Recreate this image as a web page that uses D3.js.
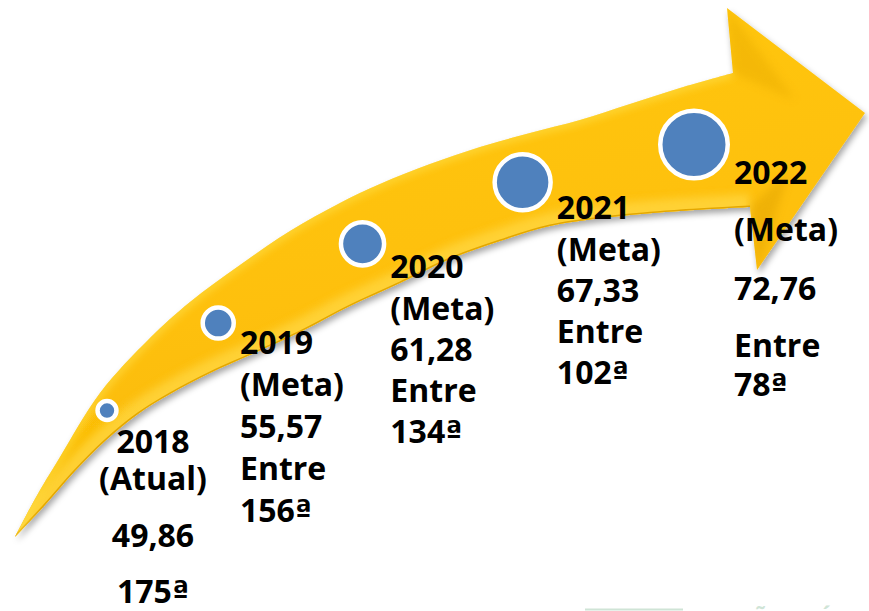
<!DOCTYPE html>
<html>
<head>
<meta charset="utf-8">
<script src="https://cdn.jsdelivr.net/npm/d3@7"></script>
<style>
  body { margin: 0; background: #fff; }
  svg { display: block; }
</style>
</head>
<body>
<div id="chart"></div>
<script>
// data
const years = ["2018", "2019", "2020", "2021", "2022"];
const status = ["(Atual)", "(Meta)", "(Meta)", "(Meta)", "(Meta)"];
const scores = [49.86, 55.57, 61.28, 67.33, 72.76];
const entre = [false, true, true, true, true];
const ranks = ["175ª", "156ª", "134ª", "102ª", "78ª"];

const width = 869, height = 611;
const fontSize = 32;

// arrow outline, purely decorative shape
const upperEdge = [[15,537],[35,499],[60,457],[100,393],[150,338],[190,302],[240,265],[290,231],[340,203],[380,184],[430,164],[480,147],[530,133],[580,120],[630,104],[680,88],[733,73]];
const lowerEdge = [[15,537],[45,505],[75,471],[105,441],[138,414],[170,394],[210,373],[250,355],[300,332],[350,306],[400,283],[450,259],[500,241],[550,226],[620,216],[680,211],[750,207]];
const headTop = [727, 8], headTip = [865, 113], headLow = [757, 270];

// line gaps (dy between lines) per label block
const lineGaps = [
  [0, 37, 57, 56],
  [0, 42, 42, 42, 42],
  [0, 42, 41, 41, 41],
  [0, 42, 41, 41, 41],
  [0, 57, 59, 57, 39]
];

const ptBR = d3.formatLocale({ decimal: ",", thousands: ".", grouping: [3], currency: ["R$", ""] });
const fmt = ptBR.format(".2f");

const svg = d3.select("#chart").append("svg")
  .attr("width", width)
  .attr("height", height);

const defs = svg.append("defs");

const shadow = defs.append("filter").attr("id", "shadow")
  .attr("x", "-10%").attr("y", "-10%").attr("width", "130%").attr("height", "130%");
shadow.append("feDropShadow")
  .attr("dx", 2).attr("dy", 4).attr("stdDeviation", 3)
  .attr("flood-color", "#000").attr("flood-opacity", 0.35);

defs.append("filter").attr("id", "soft")
  .append("feGaussianBlur").attr("stdDeviation", 4);

const grad = defs.append("linearGradient").attr("id", "gold")
  .attr("x1", 0).attr("y1", 0).attr("x2", 0.3).attr("y2", 1);
grad.append("stop").attr("offset", "0%").attr("stop-color", "#ffc915");
grad.append("stop").attr("offset", "60%").attr("stop-color", "#fec00a");
grad.append("stop").attr("offset", "100%").attr("stop-color", "#f7b800");

const edgeLine = d3.line().curve(d3.curveCatmullRom.alpha(0.5));
const upperD = edgeLine(upperEdge);
const lowerD = edgeLine(lowerEdge.slice().reverse());

const arrowD = upperD +
  "L" + headTop + "L" + headTip + "L" + headLow +
  lowerD.replace(/^M/, "L") + "Z";

defs.append("clipPath").attr("id", "arrowClip")
  .append("path").attr("d", arrowD);

// arrow body
svg.append("path")
  .attr("d", arrowD)
  .attr("fill", "url(#gold)")
  .attr("filter", "url(#shadow)");

const shade = svg.append("g").attr("clip-path", "url(#arrowClip)");

// lighter band near the lower edge
shade.append("path")
  .attr("d", edgeLine(lowerEdge))
  .attr("fill", "none")
  .attr("stroke", "#ffd640")
  .attr("stroke-width", 26)
  .attr("filter", "url(#soft)")
  .attr("opacity", 0.8);

shade.append("path")
  .attr("d", edgeLine(lowerEdge))
  .attr("fill", "none")
  .attr("stroke", "#e3a600")
  .attr("stroke-width", 3);

// highlight along the upper edge
shade.append("path")
  .attr("d", edgeLine(upperEdge))
  .attr("fill", "none")
  .attr("stroke", "#ffe04a")
  .attr("stroke-width", 5)
  .attr("filter", "url(#soft)");

// head facets
shade.append("path")
  .attr("d", "M" + headTop + "L" + upperEdge[upperEdge.length - 1] + "L795,100Z")
  .attr("fill", "#e9ac00")
  .attr("opacity", 0.45)
  .attr("filter", "url(#soft)");

shade.append("path")
  .attr("d", "M" + headLow + "L" + lowerEdge[lowerEdge.length - 1] + "L790,170Z")
  .attr("fill", "#dfa000")
  .attr("opacity", 0.45)
  .attr("filter", "url(#soft)");

// hidden edge paths used to find the arrow position at a given x
const probe = svg.append("g").attr("visibility", "hidden");
const upNode = probe.append("path").attr("d", edgeLine(upperEdge)).node();
const lowNode = probe.append("path").attr("d", edgeLine(lowerEdge)).node();

function yAt(node, x) {
  let lo = 0, hi = node.getTotalLength();
  for (let i = 0; i < 30; i++) {
    const mid = (lo + hi) / 2;
    if (node.getPointAtLength(mid).x < x) lo = mid; else hi = mid;
  }
  return node.getPointAtLength(lo).y;
}

// scales
const x = d3.scalePow().exponent(1.2)
  .domain([0, years.length - 1])
  .range([107, 694]);

const r = d3.scaleLinear()
  .domain([d3.min(scores), d3.max(scores)])
  .range([11.7, 36]);

const points = years.map((y, i) => {
  const cx = x(i);
  const top = yAt(upNode, cx), bot = yAt(lowNode, cx);
  return { year: y, i: i, cx: cx, cy: top + 0.48 * (bot - top), R: r(scores[i]) };
});

const ring = 4.5;
svg.selectAll(".dot")
  .data(points)
  .join("circle")
  .attr("class", "dot")
  .attr("cx", d => d.cx)
  .attr("cy", d => d.cy)
  .attr("r", d => d.R - ring / 2)
  .attr("fill", "#4f81bd")
  .attr("stroke", "#fff")
  .attr("stroke-width", ring);

// labels
const labels = svg.selectAll(".label")
  .data(points)
  .join("text")
  .attr("class", "label")
  .attr("font-family", "'Open Sans', 'DejaVu Sans', sans-serif")
  .attr("font-weight", 700)
  .attr("font-size", fontSize)
  .attr("fill", "#000")
  .attr("text-anchor", d => d.i === 0 ? "middle" : "start")
  .attr("x", d => d.i === 0 ? d.cx + 46 : d.cx + d.R + 4)
  .attr("y", d => d.i === 0 ? d.cy + 42 : d.cy + d.R * 0.5 + 22);

labels.each(function (d) {
  const lines = [d.year, status[d.i], fmt(scores[d.i])];
  if (entre[d.i]) lines.push("Entre");
  lines.push(ranks[d.i]);
  const t = d3.select(this);
  const x0 = t.attr("x");
  lines.forEach((s, k) => {
    const sp = t.append("tspan")
      .attr("x", x0)
      .attr("dy", lineGaps[d.i][k]);
    if (s.endsWith("ª")) {
      sp.text(s.slice(0, -1));
      t.append("tspan")
        .attr("font-family", "'DejaVu Sans', sans-serif")
        .attr("font-size", fontSize * 0.95)
        .text("ª");
    } else {
      sp.text(s);
    }
  });
});

// cut-off footer at the bottom right
svg.append("line")
  .attr("x1", 585).attr("x2", 683)
  .attr("y1", 609.5).attr("y2", 609.5)
  .attr("stroke", "#cfe4d6")
  .attr("stroke-width", 2);

svg.append("text")
  .attr("x", 688)
  .attr("y", 626)
  .attr("font-family", "'Open Sans', sans-serif")
  .attr("font-weight", 700)
  .attr("font-size", 22)
  .attr("fill", "#cfe4d6")
  .attr("letter-spacing", 3)
  .text("GESTÃO PÚBLICA");
</script>
</body>
</html>
